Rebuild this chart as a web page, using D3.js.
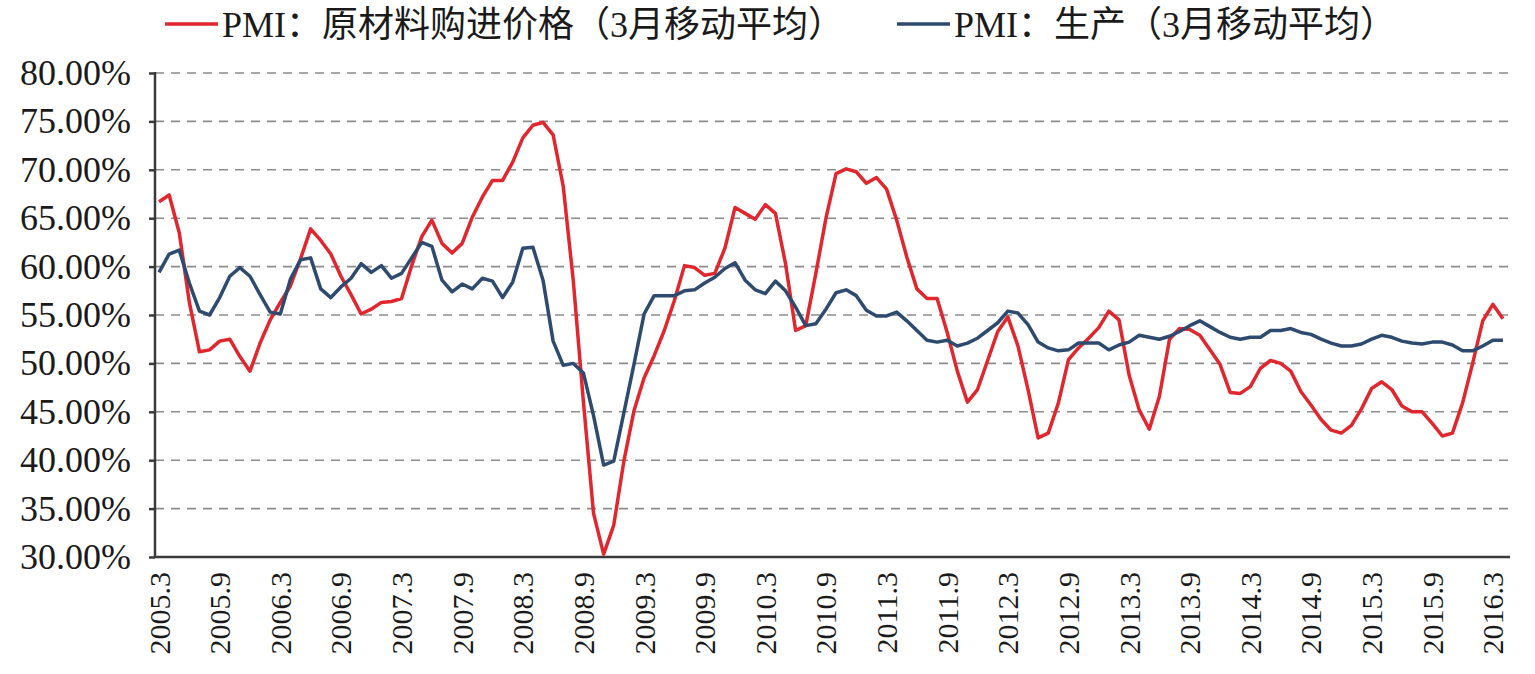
<!DOCTYPE html>
<html>
<head>
<meta charset="utf-8">
<script src="https://cdn.jsdelivr.net/npm/d3@7"></script>
<style>
  body { margin: 0; background: #fff; }
  svg text { font-family: "Liberation Serif", "Times New Roman", "Noto Sans CJK SC", serif; fill: #1a1a1a; }
</style>
</head>
<body>
<svg id="chart" width="1535" height="674"></svg>
<script>
// PMI purchase price index, 3 month moving average (%), 2005.3 - 2016.4
var priceSeries = [
  66.7, 67.4, 63.5, 56.3, 51.2, 51.4, 52.3, 52.5, 50.7, 49.2,
  52.1, 54.5, 56.3, 58.0, 60.8, 63.9, 62.7, 61.3, 59.0, 57.1,
  55.1, 55.6, 56.3, 56.4, 56.7, 60.1, 63.1, 64.8, 62.4, 61.4,
  62.4, 65.1, 67.2, 68.9, 68.9, 70.8, 73.3, 74.6, 74.9, 73.6,
  68.3, 58.5, 46.0, 34.5, 30.3, 33.3, 39.9, 45.1, 48.5, 50.8,
  53.4, 56.5, 60.1, 59.9, 59.1, 59.3, 61.9, 66.1, 65.5, 64.9,
  66.4, 65.5, 60.3, 53.4, 53.9, 59.3, 65.0, 69.6, 70.1, 69.8,
  68.6, 69.2, 68.0, 64.8, 61.0, 57.7, 56.7, 56.7, 53.2, 49.2,
  46.0, 47.3, 50.3, 53.3, 54.8, 51.8, 47.3, 42.3, 42.8, 45.9,
  50.4, 51.6, 52.6, 53.7, 55.4, 54.5, 48.8, 45.2, 43.2, 46.6,
  52.5, 53.6, 53.5, 52.9, 51.4, 49.9, 47.0, 46.9, 47.6, 49.5,
  50.3, 50.0, 49.2, 47.1, 45.7, 44.2, 43.1, 42.8, 43.6, 45.3,
  47.4, 48.1, 47.3, 45.6, 45.0, 45.0, 43.8, 42.5, 42.8, 45.9,
  50.0, 54.4, 56.1, 54.6
];

// PMI production index, 3 month moving average (%)
var outputSeries = [
  59.4, 61.3, 61.7, 58.3, 55.4, 55.0, 56.8, 59.0, 59.9, 59.0,
  57.1, 55.3, 55.1, 58.7, 60.7, 60.9, 57.7, 56.8, 57.9, 58.8,
  60.3, 59.4, 60.1, 58.8, 59.3, 60.9, 62.5, 62.1, 58.6, 57.4,
  58.2, 57.7, 58.8, 58.5, 56.8, 58.4, 61.9, 62.0, 58.6, 52.3,
  49.8, 50.0, 49.0, 44.6, 39.5, 39.9, 44.9, 49.9, 55.1, 57.0,
  57.0, 57.0, 57.5, 57.6, 58.3, 58.9, 59.8, 60.4, 58.6, 57.6,
  57.2, 58.5, 57.5, 55.8, 53.9, 54.1, 55.6, 57.3, 57.6, 57.0,
  55.5, 54.9, 54.9, 55.3, 54.4, 53.4, 52.4, 52.2, 52.4, 51.8,
  52.1, 52.6, 53.4, 54.2, 55.4, 55.2, 54.0, 52.2, 51.6, 51.3,
  51.4, 52.1, 52.1, 52.1, 51.4, 51.9, 52.2, 52.9, 52.7, 52.5,
  52.8, 53.3, 53.9, 54.4, 53.8, 53.2, 52.7, 52.5, 52.7, 52.7,
  53.4, 53.4, 53.6, 53.2, 53.0, 52.5, 52.1, 51.8, 51.8, 52.0,
  52.5, 52.9, 52.7, 52.3, 52.1, 52.0, 52.2, 52.2, 51.9, 51.3,
  51.3, 51.8, 52.4, 52.4
];

var seriesNames = ["PMI：原材料购进价格（3月移动平均）", "PMI：生产（3月移动平均）"];
var seriesColors = ["#e1262e", "#2e4a6f"];
var yTicks = [30, 35, 40, 45, 50, 55, 60, 65, 70, 75, 80];

// month categories "2005.3", "2005.4", ...
var months = [];
(function() {
  var yr = 2005, mo = 3;
  for (var i = 0; i < priceSeries.length; i++) {
    months.push(yr + "." + mo);
    mo++;
    if (mo > 12) { mo = 1; yr++; }
  }
})();
var xTickLabels = months.filter(function(d) {
  var mo = d.split(".")[1];
  return mo === "3" || mo === "9";
});

var svg = d3.select("#chart");
var plotLeft = 155, plotRight = 1510, plotTop = 73, plotBottom = 557;

var x = d3.scaleBand().domain(months).range([154, 1508]);
var y = d3.scaleLinear().domain([30, 80]).range([plotBottom, plotTop]);
function cx(d) { return x(d) + x.bandwidth() / 2; }

// dashed gridlines
svg.append("g").selectAll("line")
  .data(yTicks.filter(function(d) { return d > 30; }))
  .enter().append("line")
  .attr("x1", plotLeft).attr("x2", plotRight)
  .attr("y1", function(d) { return y(d); })
  .attr("y2", function(d) { return y(d); })
  .attr("stroke", "#8c8c8c")
  .attr("stroke-width", 1.6)
  .attr("stroke-dasharray", "9,7");

// y axis
var yAxis = svg.append("g")
  .attr("transform", "translate(" + plotLeft + ",0)")
  .call(d3.axisLeft(y).tickValues(yTicks).tickSize(6).tickPadding(18)
    .tickFormat(function(d) { return d.toFixed(2) + "%"; }));
yAxis.select(".domain").remove();
yAxis.selectAll(".tick line").attr("stroke", "#3a3a3a").attr("stroke-width", 2.5);
yAxis.selectAll("text").attr("font-size", 36).attr("fill", "#1a1a1a");
svg.append("line")
  .attr("x1", plotLeft).attr("x2", plotLeft).attr("y1", plotTop - 1).attr("y2", plotBottom + 1)
  .attr("stroke", "#3a3a3a").attr("stroke-width", 2.5);

// x axis
var xAxis = svg.append("g")
  .attr("transform", "translate(0," + plotBottom + ")")
  .call(d3.axisBottom(x).tickValues(xTickLabels).tickSize(0));
xAxis.select(".domain").remove();
xAxis.selectAll("text")
  .attr("font-size", 30)
  .attr("fill", "#1a1a1a")
  .attr("transform", "rotate(-90)")
  .attr("x", -15).attr("y", 0).attr("dy", "0.35em")
  .style("text-anchor", "end");
svg.append("line")
  .attr("x1", plotLeft - 1).attr("x2", plotRight).attr("y1", plotBottom).attr("y2", plotBottom)
  .attr("stroke", "#3a3a3a").attr("stroke-width", 2.5);

// lines
var line = d3.line()
  .x(function(d, i) { return cx(months[i]); })
  .y(function(d) { return y(d); });

[priceSeries, outputSeries].forEach(function(s, k) {
  svg.append("path")
    .datum(s)
    .attr("fill", "none")
    .attr("stroke", seriesColors[k])
    .attr("stroke-width", 3.5)
    .attr("stroke-linejoin", "round")
    .attr("d", line);
});

// legend
var legendX = [165, 897];
seriesNames.forEach(function(name, k) {
  var lg = svg.append("g").attr("transform", "translate(" + legendX[k] + ",24)");
  lg.append("line").attr("x1", 0).attr("x2", 53).attr("y1", 0).attr("y2", 0)
    .attr("stroke", seriesColors[k]).attr("stroke-width", 3.5);
  lg.append("text").attr("x", 57).attr("y", 0).attr("dy", "0.36em")
    .attr("font-size", 36).text(name);
});
</script>
</body>
</html>
